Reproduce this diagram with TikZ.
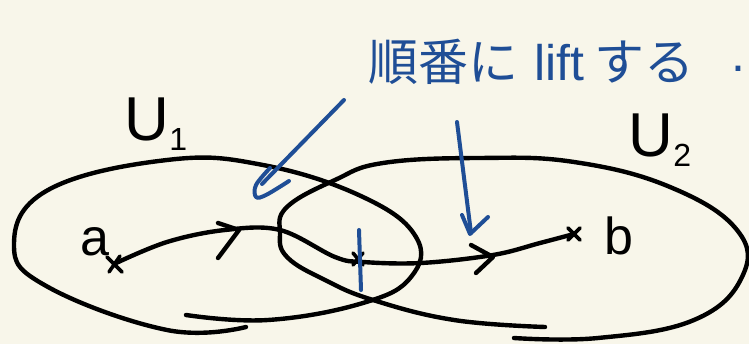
\documentclass[tikz,border=0pt]{standalone}
\usepackage{fontspec}
\usetikzlibrary{calc}
\setmainfont{Liberation Sans}
\newfontfamily\cjk{Noto Sans CJK JP}
\definecolor{bg}{HTML}{F8F6EA}
\definecolor{ink}{HTML}{1F4E96}
\begin{document}
\begin{tikzpicture}[x=1pt,y=-1pt,line cap=round,line join=round,
  pen/.style={line width=4.4pt,black},
  bluepen/.style={line width=4pt,ink},
  lbl/.style={font=\fontsize{52}{52}\selectfont,inner sep=0pt},
  ulbl/.style={font=\fontsize{62}{62}\selectfont,inner sep=0pt},
  note/.style={font=\fontsize{50}{50}\selectfont,inner sep=0pt,text=ink,anchor=west}]
\fill[bg] (0,0) rectangle (749,344);
\useasboundingbox (0,0) rectangle (749,344);

% open sets
\draw[pen] plot[smooth,tension=0.7] coordinates {(246,327) (167,330) (48,287) (14,245) (48,190) (167,160) (263,165) (363,197) (416,237) (411,277) (363,303) (268,320) (186,315)};
\draw[pen] plot[smooth,tension=0.7] coordinates {(545,327) (454,320) (373,300) (325,280) (287,257) (280,233) (287,207) (335,180) (383,163) (478,158) (574,162) (670,187) (737,230) (742,277) (694,320) (598,338) (514,338)};

% labels
\node[ulbl] (U1) at (156,124) {U\raisebox{-10pt}{\fontsize{32}{32}\selectfont 1}};
\node[ulbl] (U2) at (660,140) {U\raisebox{-10pt}{\fontsize{32}{32}\selectfont 2}};
\node[lbl] (a) at (95,242) {a};
\node[lbl] (b) at (619,236) {b};

% points
\coordinate (xa) at (114,264);
\coordinate (xm) at (358,259);
\coordinate (xb) at (574,234);
\draw[pen,line width=3.6pt] ($(xa)+(-7,-7)$) -- ($(xa)+(8,8)$) ($(xa)+(6,-8)$) -- ($(xa)+(-5,8)$);
\draw[pen,line width=3.6pt] ($(xb)+(-6,-6)$) -- ($(xb)+(6,6)$) ($(xb)+(6,-6)$) -- ($(xb)+(-6,6)$);
\draw[pen,line width=3.6pt] ($(xm)+(-5,-6)$) -- ($(xm)+(5,6)$) ($(xm)+(5,-6)$) -- ($(xm)+(-5,6)$);

% path
\draw[pen] plot[smooth,tension=0.6] coordinates {(xa) (167,242) (225,230) (280,230) (335,257) (363,262) (421,263) (493,255) (540,243) (xb)};
\draw[pen] (218,223) -- (239,230) -- (218,258);
\draw[pen] (471,245) -- (493,257) -- (476,273);

% blue annotations
\node[note] (t) at (368,62) {{\cjk 順番に}\hspace{16pt}lift\hspace{10pt}{\cjk する}};
\node[note] (dot) at (731,69) {.};
\coordinate (s1) at (344,100);
\coordinate (e1) at (262,184);
\draw[bluepen] (s1) -- (e1);
\draw[bluepen] plot[smooth,tension=0.6] coordinates {(270,168) (256,185) (256,197) (266,195) (289,181)};
\coordinate (s2) at (457,122);
\coordinate (e2) at (471,233);
\draw[bluepen] (s2) -- (e2);
\draw[bluepen] (462,215) -- (470,234) -- (488,217);
\coordinate (k1) at (359,230);
\coordinate (k2) at (361,290);
\draw[bluepen] (k1) -- (k2);
\end{tikzpicture}
\end{document}
